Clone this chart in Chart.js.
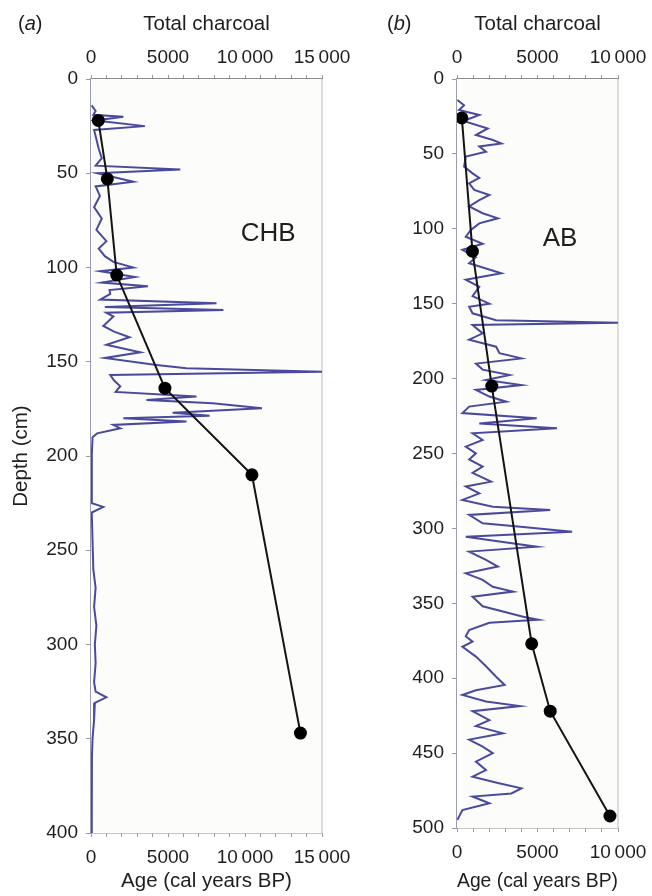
<!DOCTYPE html>
<html>
<head>
<meta charset="utf-8">
<script src="https://cdn.jsdelivr.net/npm/chart.js@4.4.1/dist/chart.umd.min.js"></script>
<style>
  body { margin: 0; background: #fff; width: 652px; height: 896px; position: relative; overflow: hidden; }
  canvas { position: absolute; top: 0; }
  #panelA { left: 0; }
  #panelB { left: 360px; }
</style>
</head>
<body>
<canvas id="panelA" width="360" height="896"></canvas>
<canvas id="panelB" width="292" height="896"></canvas>
<script>
'use strict';

// ---- CHB (panel a) ----
var depthA = [14, 17, 19, 20, 22, 25, 27, 32, 37, 42, 46, 48, 50, 54.5, 57, 62, 68, 74, 80, 86, 90, 94, 97, 100,
  102, 105, 108, 110, 112, 114, 117, 119, 121, 122.5, 124, 126, 131, 134, 137, 141, 145, 148, 151.7, 153.5,
  155.3, 157, 160, 163, 166, 168.5, 170.3, 172, 174.7, 177, 178.7, 180, 181.7, 183.5, 185.3, 188, 190, 200,
  215, 225, 227, 230, 245, 260, 270, 280, 290, 300, 310, 320, 325, 328, 331, 340, 350, 360, 370, 380, 390, 400];
var charcoalA = [40, 300, 150, 2100, 300, 3500, 200, 350, 500, 700, 300, 5800, 400, 2750, 300, 580, 200, 700, 350,
  1000, 500, 900, 1450, 2750, 600, 2850, 700, 3700, 1200, 1250, 600, 8150, 900, 8600, 1000, 1450, 800, 1500, 2500,
  1000, 3200, 900, 4250, 6200, 15100, 1250, 1500, 1900, 1600, 6850, 3600, 7900, 11100, 5300, 7700, 2100, 6200,
  1450, 1900, 400, 100, 50, 50, 60, 800, 50, 100, 150, 300, 200, 350, 250, 300, 200, 300, 1000, 250, 200, 100,
  60, 50, 50, 50, 50];
var dateDepthA = [22, 53, 104, 164, 210, 347];
var dateAgeA = [475, 1060, 1670, 4800, 10450, 13600];

// ---- AB (panel b) ----
var depthB = [14, 17.5, 20.7, 24, 28, 33, 37.4, 40.7, 43, 45, 48.5, 51.8, 58.4, 63, 66, 69.7, 74, 77.4, 80.8, 85,
  89.6, 93, 96.4, 100.8, 105.3, 110, 114, 119, 123, 129.7, 134, 138.7, 145, 150, 152, 156.4, 161, 162.7, 164.2,
  169.8, 174, 178.7, 183, 186.5, 190, 194, 197.6, 201, 204.3, 207.6, 212, 215.4, 218.7, 223, 226.5, 230, 233.2,
  236.5, 241, 245.4, 249.9, 254, 258.8, 263, 268.8, 272, 276.6, 281, 285.5, 287.7, 291, 296.6, 299, 302.2, 305.5,
  308.8, 312.2, 315.5, 321, 325.5, 330, 334.4, 339, 342.2, 345.6, 352, 359, 361, 363, 367.9, 372, 375.6, 379,
  385.6, 392, 399, 404.5, 408, 411.2, 415.6, 418.6, 422, 428, 432, 436.8, 441, 445.7, 450, 455.7, 461.3, 465.7,
  470, 473.5, 476.9, 479, 483.5, 488, 492.4, 494.6];
var charcoalB = [22, 440, 126, 1385, 400, 1910, 1175, 2230, 2750, 1385, 1800, 545, 440, 965, 1385, 755, 1070, 2010,
  1385, 755, 1595, 2540, 1385, 860, 545, 1595, 335, 1175, 755, 2750, 545, 1385, 965, 2010, 755, 965, 2430, 10200,
  965, 1595, 755, 2430, 2640, 4000, 1175, 1595, 3270, 1800, 4000, 1175, 2010, 3060, 755, 335, 4950, 1385, 6210,
  965, 1595, 545, 1175, 755, 1595, 965, 2120, 545, 1385, 335, 2220, 5790, 755, 1595, 4110, 7150, 545, 2640, 4950,
  755, 1800, 2540, 545, 1595, 2220, 3480, 965, 1595, 4110, 5050, 2010, 755, 545, 965, 335, 1175, 1800, 2430,
  2960, 1175, 335, 1800, 3900, 965, 2010, 1175, 2850, 755, 1595, 2220, 1175, 1800, 965, 2540, 4000, 3380, 965,
  2010, 335, 126, 30];
var dateDepthB = [26, 115, 205, 377, 422, 492];
var dateAgeB = [300, 960, 2160, 4640, 5790, 9500];

var FONT = '"Liberation Sans", Arial, sans-serif';
Chart.defaults.font.family = FONT;
Chart.defaults.font.size = 19;
Chart.defaults.color = '#1e1e1e';

function pts(xs, ys) {
  return xs.map(function (v, i) { return { x: v, y: ys[i] }; });
}

function thousands(v) {
  if (v % 5000 !== 0) return '';
  return v >= 10000 ? Math.floor(v / 1000) + '\u2009000' : String(v);
}

// light panel background, panel tag like "(a)" and the site name
var panelDeco = {
  id: 'panelDeco',
  beforeDatasetsDraw: function (chart) {
    var a = chart.chartArea, ctx = chart.ctx;
    ctx.save();
    ctx.fillStyle = '#fcfcfb';
    ctx.fillRect(a.left, a.top, a.right - a.left, a.bottom - a.top);
    ctx.strokeStyle = '#dcdcdc';
    ctx.lineWidth = 2;
    ctx.beginPath();
    ctx.moveTo(a.right, a.top);
    ctx.lineTo(a.right, a.bottom);
    ctx.stroke();
    ctx.restore();
  },
  afterDraw: function (chart, args, o) {
    var ctx = chart.ctx;
    ctx.save();
    ctx.fillStyle = '#1e1e1e';
    ctx.textBaseline = 'middle';
    ctx.textAlign = 'left';
    var x = o.tagX;
    ctx.font = '20px ' + FONT;
    ctx.fillText('(', x, 24); x += ctx.measureText('(').width;
    ctx.font = 'italic 20px ' + FONT;
    ctx.fillText(o.tag, x, 24); x += ctx.measureText(o.tag).width;
    ctx.font = '20px ' + FONT;
    ctx.fillText(')', x, 24);
    ctx.font = '26px ' + FONT;
    ctx.textAlign = 'center';
    ctx.fillText(o.site, chart.scales.x.getPixelForValue(o.siteX), chart.scales.y.getPixelForValue(o.siteY));
    ctx.restore();
  }
};

function makePanel(id, cfg) {
  return new Chart(document.getElementById(id), {
    type: 'scatter',
    data: {
      datasets: [
        {
          data: pts(cfg.ages, cfg.dateDepths),
          xAxisID: 'x', yAxisID: 'y',
          showLine: true,
          borderColor: '#141414', borderWidth: 2,
          pointRadius: 5.5, pointBackgroundColor: '#000', pointBorderColor: '#000'
        },
        {
          data: pts(cfg.charcoal, cfg.depths),
          xAxisID: 'x2', yAxisID: 'y',
          showLine: true,
          borderColor: '#4a4a9c', borderWidth: 2,
          pointRadius: 0
        }
      ]
    },
    options: {
      responsive: false,
      animation: false,
      layout: { padding: { right: cfg.padRight } },
      plugins: {
        legend: { display: false },
        tooltip: { enabled: false },
        panelDeco: { tag: cfg.tag, tagX: cfg.tagX, site: cfg.site, siteX: cfg.siteX, siteY: cfg.siteY }
      },
      scales: {
        x: {
          type: 'linear', position: 'bottom', min: 0, max: cfg.xMax,
          ticks: { stepSize: 1000, autoSkip: false, maxRotation: 0, padding: 9, callback: thousands },
          grid: { drawOnChartArea: false, tickLength: 4, color: '#9a9a9a' },
          border: { color: '#8c8c8c', width: 1.5 },
          title: { display: true, text: 'Age (cal years BP)', font: { size: 20.5 }, padding: { top: 0, bottom: 2 } },
          afterFit: function (s) { s.height = cfg.bottomH; s.paddingLeft = 0; s.paddingRight = 0; }
        },
        x2: {
          type: 'linear', position: 'top', axis: 'x', min: 0, max: cfg.xMax,
          ticks: { stepSize: 1000, autoSkip: false, maxRotation: 0, padding: 6, callback: thousands },
          grid: { drawOnChartArea: false, tickLength: 4, color: '#9a9a9a' },
          border: { color: '#8c8c8c', width: 1.5 },
          title: { display: true, text: 'Total charcoal', font: { size: 20.5 }, padding: { top: 12, bottom: 0 } },
          afterFit: function (s) { s.height = 79; s.paddingLeft = 0; s.paddingRight = 0; }
        },
        y: {
          type: 'linear', reverse: true, min: 0, max: cfg.yMax,
          ticks: { stepSize: 50, padding: 8 },
          grid: { drawOnChartArea: false, tickLength: 5, color: '#9a9a9a' },
          border: { color: '#9a9ab4', width: 1.5 },
          title: { display: cfg.yTitle, text: 'Depth (cm)', font: { size: 20.5 }, padding: { top: 9, bottom: 0 } },
          afterFit: function (s) { s.width = cfg.leftW; s.paddingTop = 0; s.paddingBottom = 0; }
        }
      }
    },
    plugins: [panelDeco]
  });
}

makePanel('panelA', {
  depths: depthA, charcoal: charcoalA, dateDepths: dateDepthA, ages: dateAgeA,
  xMax: 15000, yMax: 400, leftW: 91, padRight: 38, bottomH: 63, yTitle: true,
  tag: 'a', tagX: 18, site: 'CHB', siteX: 11500, siteY: 82
});

makePanel('panelB', {
  depths: depthB, charcoal: charcoalB, dateDepths: dateDepthB, ages: dateAgeB,
  xMax: 10000, yMax: 500, leftW: 97, padRight: 34, bottomH: 68, yTitle: false,
  tag: 'b', tagX: 27, site: 'AB', siteX: 6400, siteY: 107
});
</script>
</body>
</html>
